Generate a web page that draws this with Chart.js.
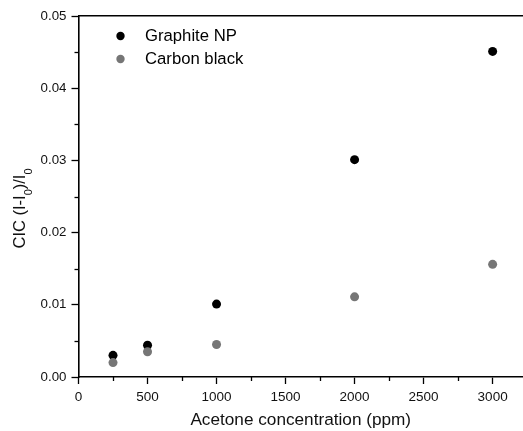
<!DOCTYPE html>
<html>
<head>
<meta charset="utf-8">
<script src="https://cdn.jsdelivr.net/npm/chart.js@4/dist/chart.umd.min.js"></script>
<style>
  html, body { margin: 0; padding: 0; background: #fff; }
  #wrap { width: 523px; height: 431px; position: relative; }
</style>
</head>
<body>
<div id="wrap"><canvas id="c"></canvas></div>
<script>
const concentrations = [250, 500, 1000, 2000, 3000];
const graphiteNP = [0.0030, 0.0044, 0.0101, 0.0301, 0.0451];
const carbonBlack = [0.0020, 0.0035, 0.0045, 0.0111, 0.0156];
const seriesNames = ['Graphite NP', 'Carbon black'];
const xTicks = [0, 500, 1000, 1500, 2000, 2500, 3000];
const yTicks = [0, 0.01, 0.02, 0.03, 0.04, 0.05];
const xMinorTicks = [250, 750, 1250, 1750, 2250, 2750];
const yMinorTicks = [0.005, 0.015, 0.025, 0.035, 0.045];
const xTitle = 'Acetone concentration (ppm)';
// y title: "CIC (I-I0)/I0" with subscript zeros
const yTitleParts = [
  { text: 'CIC (I-I', sub: false },
  { text: '0', sub: true },
  { text: ')/I', sub: false },
  { text: '0', sub: true }
];

const FONT = 'Arial, "Liberation Sans", sans-serif';
const colors = ['#000000', '#767676'];

const minorTicks = {
  id: 'minorTicks',
  afterDraw(chart) {
    const ctx = chart.ctx;
    const xs = chart.scales.x, ys = chart.scales.y;
    ctx.save();
    ctx.strokeStyle = '#000';
    ctx.lineWidth = 1.3;
    xMinorTicks.forEach(v => {
      const px = Math.round(xs.getPixelForValue(v)) + 0.5;
      ctx.beginPath();
      ctx.moveTo(px, xs.top);
      ctx.lineTo(px, xs.top + 4);
      ctx.stroke();
    });
    yMinorTicks.forEach(v => {
      const py = Math.round(ys.getPixelForValue(v)) + 0.5;
      ctx.beginPath();
      ctx.moveTo(ys.right, py);
      ctx.lineTo(ys.right - 4, py);
      ctx.stroke();
    });
    ctx.restore();
  }
};

const yAxisTitle = {
  id: 'yAxisTitle',
  afterDraw(chart) {
    const ctx = chart.ctx;
    const a = chart.chartArea;
    const mainFont = '16.5px ' + FONT;
    const subFont = '11px ' + FONT;
    ctx.save();
    let total = 0;
    yTitleParts.forEach(p => {
      ctx.font = p.sub ? subFont : mainFont;
      p.w = ctx.measureText(p.text).width;
      total += p.w;
    });
    ctx.translate(25, (a.top + a.bottom) / 2 + 12);
    ctx.rotate(-Math.PI / 2);
    ctx.fillStyle = '#111';
    ctx.textBaseline = 'alphabetic';
    ctx.textAlign = 'left';
    let x = -total / 2;
    yTitleParts.forEach(p => {
      ctx.font = p.sub ? subFont : mainFont;
      ctx.fillText(p.text, x, p.sub ? 7 : 0);
      x += p.w;
    });
    ctx.restore();
  }
};

const insideLegend = {
  id: 'insideLegend',
  afterDraw(chart) {
    const ctx = chart.ctx;
    const a = chart.chartArea;
    ctx.save();
    ctx.font = '16.7px ' + FONT;
    ctx.textBaseline = 'middle';
    ctx.textAlign = 'left';
    chart.data.datasets.forEach((ds, i) => {
      const cy = a.top + 20 + i * 23;
      ctx.fillStyle = ds.backgroundColor;
      ctx.beginPath();
      ctx.arc(a.left + 42, cy, 4.2, 0, Math.PI * 2);
      ctx.fill();
      ctx.fillStyle = '#000';
      ctx.fillText(ds.label, a.left + 66.5, cy + 0.5);
    });
    ctx.restore();
  }
};

new Chart(document.getElementById('c'), {
  type: 'scatter',
  data: {
    datasets: [
      {
        label: seriesNames[0],
        data: concentrations.map((x, i) => ({ x, y: graphiteNP[i] })),
        backgroundColor: colors[0],
        borderColor: colors[0],
        pointRadius: 4.5,
        borderWidth: 0,
        order: 1
      },
      {
        label: seriesNames[1],
        data: concentrations.map((x, i) => ({ x, y: carbonBlack[i] })),
        backgroundColor: colors[1],
        borderColor: colors[1],
        pointRadius: 4.5,
        borderWidth: 0,
        order: 0
      }
    ]
  },
  options: {
    responsive: true,
    maintainAspectRatio: false,
    animation: false,
    devicePixelRatio: 1,
    layout: { autoPadding: false, padding: { left: 0, right: 0, top: 0, bottom: 0 } },
    plugins: {
      legend: { display: false },
      tooltip: { enabled: false }
    },
    scales: {
      x: {
        type: 'linear',
        position: 'bottom',
        min: 0,
        max: 3220,
        afterBuildTicks: s => { s.ticks = xTicks.map(v => ({ value: v })); },
        afterFit: s => { s.height = 54; },
        ticks: {
          color: '#111',
          font: { family: FONT, size: 13.5 },
          padding: 5,
          maxRotation: 0,
          callback: v => String(v)
        },
        grid: { display: true, drawOnChartArea: false, drawTicks: true, tickLength: 7, tickColor: '#000', tickWidth: 1.3 },
        border: { display: true, color: '#000', width: 1.6 },
        title: {
          display: true,
          text: xTitle,
          color: '#111',
          font: { family: FONT, size: 17.2 },
          padding: { top: 0, bottom: 0 }
        }
      },
      xTop: {
        type: 'linear',
        position: 'top',
        min: 0,
        max: 3220,
        afterFit: s => { s.height = 16; },
        ticks: { display: false },
        grid: { display: false, drawTicks: false },
        border: { display: true, color: '#000', width: 1.6 }
      },
      y: {
        type: 'linear',
        position: 'left',
        min: 0,
        max: 0.05,
        afterBuildTicks: s => { s.ticks = yTicks.map(v => ({ value: v })); },
        afterFit: s => { s.width = 78.5; },
        ticks: {
          color: '#111',
          font: { family: FONT, size: 13.3 },
          padding: 5,
          callback: v => v.toFixed(2)
        },
        grid: { display: true, drawOnChartArea: false, drawTicks: true, tickLength: 7, tickColor: '#000', tickWidth: 1.3 },
        border: { display: true, color: '#000', width: 1.6 },
        title: { display: false }
      }
    }
  },
  plugins: [minorTicks, yAxisTitle, insideLegend]
});
</script>
</body>
</html>
